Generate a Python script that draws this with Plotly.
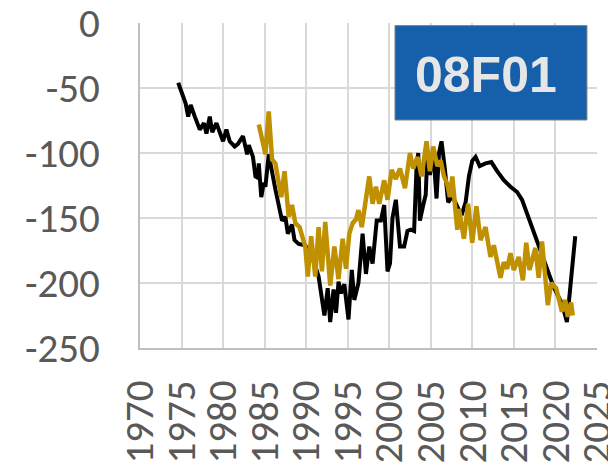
import plotly.graph_objects as go

# Black series (year, value)
black_years = [1974.6, 1975.5, 1975.8, 1976.1, 1976.6, 1977.2, 1977.7, 1978.0, 1978.4, 1978.7,
               1979.2, 1979.6, 1980.0, 1980.4, 1980.8, 1981.4, 1981.8, 1982.4, 1982.9, 1983.1,
               1983.6, 1983.9, 1984.2, 1984.3, 1984.6, 1984.9, 1985.1, 1985.5, 1985.9, 1986.3,
               1986.9, 1987.1, 1987.5, 1987.8, 1988.3, 1988.6, 1989.1, 1989.9, 1990.5, 1991.0,
               1991.5, 1992.2, 1992.6, 1992.9, 1993.3, 1993.6, 1993.9, 1994.2, 1994.6, 1995.1,
               1995.5, 1995.8, 1996.3, 1996.8, 1997.2, 1997.6, 1998.0, 1998.5, 1999.0, 1999.4,
               1999.8, 2000.1, 2000.4, 2000.8, 2001.3, 2001.8, 2002.2, 2002.6, 2003.0, 2003.3,
               2003.5, 2003.7, 2004.1, 2004.4, 2004.6, 2004.9, 2005.3, 2005.7, 2006.0, 2006.3,
               2006.7, 2007.1, 2007.6, 2008.0, 2008.4, 2008.8, 2009.2, 2009.6, 2010.0, 2010.4,
               2010.9, 2011.6, 2012.3, 2013.0, 2013.8, 2014.6, 2015.4, 2016.0, 2016.8, 2017.8,
               2018.8, 2019.8, 2020.8, 2021.4, 2022.4]
black_values = [-46, -62, -72, -63, -72, -82, -77, -85, -72, -84,
                -77, -84, -91, -82, -91, -95, -93, -87, -101, -94,
                -103, -118, -119, -108, -134, -123, -126, -101, -116, -128,
                -146, -152, -149, -162, -155, -167, -170, -171, -178, -185,
                -195, -225, -204, -230, -205, -223, -199, -208, -201, -228,
                -190, -213, -200, -162, -193, -172, -185, -152, -152, -140,
                -191, -185, -150, -136, -172, -172, -160, -159, -160, -110,
                -100, -152, -140, -132, -100, -117, -98, -135, -100, -91,
                -112, -138, -133, -138, -144, -146, -138, -118, -106, -103,
                -110, -108, -107, -114, -121, -126, -130, -136, -150, -169,
                -187, -203, -216, -230, -164]

# Gold series (year, value)
gold_years = [1984.3, 1985.1, 1985.5, 1985.9, 1986.3, 1986.7, 1987.0, 1987.4, 1987.9, 1988.3,
              1988.7, 1989.2, 1989.9, 1990.2, 1990.6, 1991.1, 1991.5, 1991.9, 1992.3, 1992.9,
              1993.4, 1993.9, 1994.4, 1994.8, 1995.2, 1995.6, 1996.0, 1996.3, 1996.7, 1997.6,
              1998.0, 1998.4, 1998.8, 1999.4, 1999.8, 2000.3, 2000.8, 2001.3, 2001.9, 2002.5,
              2002.9, 2003.4, 2003.9, 2004.5, 2004.9, 2005.3, 2005.8, 2006.2, 2006.6, 2007.0,
              2007.3, 2007.6, 2008.2, 2008.4, 2009.0, 2009.5, 2010.0, 2010.5, 2011.0, 2011.6,
              2012.2, 2012.6, 2013.4, 2013.8, 2014.2, 2014.6, 2015.0, 2015.6, 2016.1, 2016.5,
              2016.9, 2017.6, 2018.0, 2018.4, 2019.1, 2019.5, 2020.1, 2020.8, 2021.2, 2021.5,
              2021.9, 2022.1]
gold_values = [-78, -101, -68, -105, -108, -121, -134, -114, -149, -140,
               -154, -157, -172, -195, -164, -195, -157, -191, -153, -202,
               -172, -197, -166, -189, -162, -154, -151, -144, -157, -118,
               -139, -126, -139, -121, -136, -113, -120, -112, -127, -100,
               -112, -103, -118, -91, -114, -95, -110, -106, -118, -124,
               -134, -118, -159, -143, -166, -139, -169, -141, -167, -157,
               -180, -171, -196, -184, -189, -177, -190, -180, -198, -169,
               -190, -173, -196, -168, -217, -200, -204, -222, -213, -226,
               -215, -225]

x_ticks = list(range(1970, 2026, 5))
y_ticks = [0, -50, -100, -150, -200, -250]
label_text = "08F01"

fig = go.Figure()
fig.add_trace(go.Scatter(x=black_years, y=black_values, mode="lines",
                         line=dict(color="#000000", width=4), showlegend=False))
fig.add_trace(go.Scatter(x=gold_years, y=gold_values, mode="lines",
                         line=dict(color="#BF9000", width=4.5), showlegend=False))

tick_font = dict(family="Carlito, 'Liberation Sans Narrow', Lato, sans-serif", size=41, color="#595959")

fig.update_layout(
    width=616, height=468,
    margin=dict(l=132, r=27, t=15, b=128, autoexpand=False),
    paper_bgcolor="white", plot_bgcolor="white",
    xaxis=dict(range=[1970, 2025.02], tickvals=x_ticks, ticktext=[str(v) for v in x_ticks],
               tickangle=-90, tickfont=tick_font, showgrid=True, gridcolor="#D9D9D9",
               gridwidth=2, showline=True, linecolor="#BFBFBF", linewidth=2,
               zeroline=False, ticks="", ticklabelstandoff=14, automargin=False,
               ticklabeloverflow="allow"),
    yaxis=dict(range=[-250, 0], tickvals=y_ticks, ticktext=[str(v) for v in y_ticks],
               tickfont=tick_font, showgrid=True, gridcolor="#D9D9D9", gridwidth=2,
               showline=True, linecolor="#BFBFBF", linewidth=2, zeroline=False,
               ticks="", ticklabelstandoff=30, automargin=False,
               ticklabeloverflow="allow"),
)

fig.add_shape(type="rect", xref="paper", yref="paper",
              x0=0.558, x1=0.978, y0=0.7015, y1=0.992,
              fillcolor="#165FAA", line=dict(color="#7F7F7F", width=1))
fig.add_annotation(xref="paper", yref="paper", x=0.757, y=0.84, text=label_text,
                   showarrow=False, xanchor="center", yanchor="middle",
                   font=dict(family="Liberation Sans, Arial", size=50, color="#E6E6E6", weight="bold"))

fig.write_html("out.html")
